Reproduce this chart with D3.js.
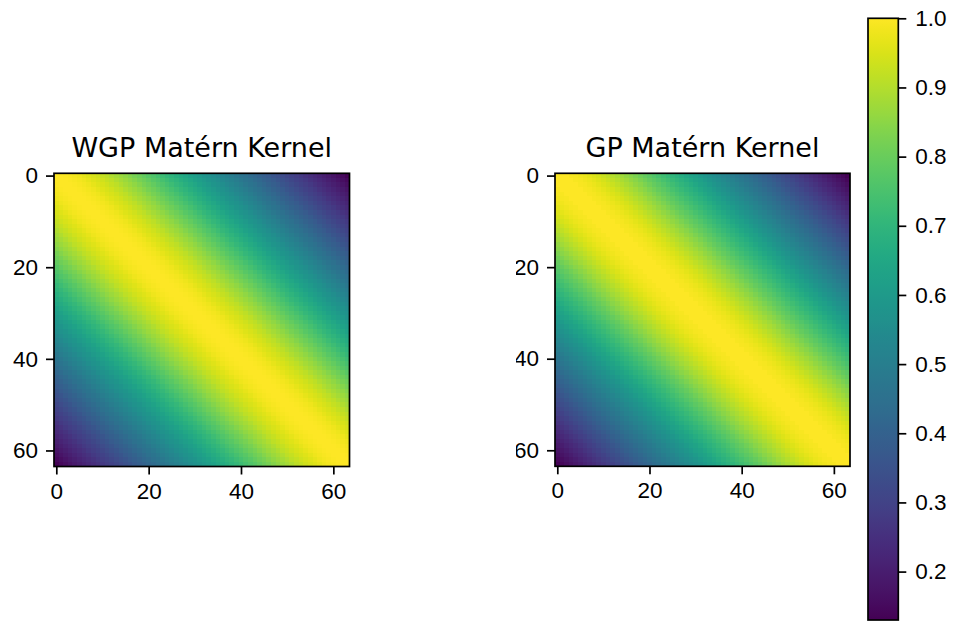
<!DOCTYPE html>
<html>
<head>
<meta charset="utf-8">
<script src="https://cdn.jsdelivr.net/npm/d3@7"></script>
<style>
  body { margin: 0; background: #fff; }
  svg { display: block; font-family: "DejaVu Sans", sans-serif; }
  .axis text { font-size: 22.5px; fill: #000; }
  .axis line, .axis path { stroke: #000; stroke-width: 1.7; }
  .title { font-size: 27px; }
</style>
</head>
<body>
<svg id="chart" width="954" height="621"></svg>
<script>
const wgpLag = [
  1.000, 0.999, 0.996, 0.991, 0.985, 0.978, 0.969, 0.959, 0.948, 0.937,
  0.925, 0.912, 0.898, 0.884, 0.870, 0.855, 0.839, 0.823, 0.807, 0.791,
  0.775, 0.759, 0.743, 0.727, 0.711, 0.695, 0.679, 0.663, 0.647, 0.631,
  0.615, 0.600, 0.585, 0.570, 0.555, 0.540, 0.525, 0.510, 0.495, 0.480,
  0.465, 0.450, 0.435, 0.420, 0.405, 0.390, 0.375, 0.360, 0.345, 0.330,
  0.315, 0.301, 0.287, 0.273, 0.259, 0.245, 0.231, 0.217, 0.203, 0.189,
  0.175, 0.161, 0.147, 0.133
];
const gpLag = [
  1.000, 0.999, 0.997, 0.993, 0.988, 0.981, 0.973, 0.964, 0.954, 0.943,
  0.931, 0.918, 0.904, 0.890, 0.875, 0.860, 0.844, 0.828, 0.812, 0.796,
  0.780, 0.764, 0.748, 0.732, 0.716, 0.700, 0.684, 0.668, 0.652, 0.636,
  0.620, 0.604, 0.588, 0.572, 0.557, 0.542, 0.527, 0.512, 0.497, 0.482,
  0.467, 0.452, 0.437, 0.422, 0.407, 0.392, 0.377, 0.362, 0.347, 0.332,
  0.317, 0.302, 0.287, 0.272, 0.257, 0.242, 0.228, 0.214, 0.200, 0.186,
  0.172, 0.158, 0.144, 0.130
];
const panelTitles = ["WGP Matérn Kernel", "GP Matérn Kernel"];
const axisTicks = [0, 20, 40, 60];
const cbarTicks = [0.2, 0.3, 0.4, 0.5, 0.6, 0.7, 0.8, 0.9, 1.0];
const nPts = 64;

const svg = d3.select("#chart");
const defs = svg.append("defs");

const allVals = wgpLag.concat(gpLag);
const color = d3.scaleSequential(d3.interpolateViridis)
    .domain([d3.min(allVals), d3.max(allVals)]);

const panels = [
  { lag: wgpLag, title: panelTitles[0], left: 54, right: 349.5, top: 173.3, bottom: 466.5 },
  { lag: gpLag, title: panelTitles[1], left: 555, right: 850, top: 173.3, bottom: 466.3 }
];

// the right panel's y labels are cut on the left in the original
defs.append("clipPath").attr("id", "ylabClip")
    .append("rect").attr("x", 516).attr("y", 0).attr("width", 60).attr("height", 621);

panels.forEach((p, k) => {
  const x = d3.scaleLinear().domain([-0.5, nPts - 0.5]).range([p.left, p.right]);
  const y = d3.scaleLinear().domain([-0.5, nPts - 0.5]).range([p.top, p.bottom]);

  const cells = [];
  for (let i = 0; i < nPts; i++) {
    for (let j = 0; j < nPts; j++) {
      cells.push({ row: i, col: j, v: p.lag[Math.abs(i - j)] });
    }
  }

  const g = svg.append("g");
  g.selectAll("rect.cell")
    .data(cells)
    .join("rect")
    .attr("class", "cell")
    .attr("x", d => x(d.col - 0.5))
    .attr("y", d => y(d.row - 0.5))
    .attr("width", d => Math.min(x(d.col + 0.5) + 1, p.right) - x(d.col - 0.5))
    .attr("height", d => Math.min(y(d.row + 0.5) + 1, p.bottom) - y(d.row - 0.5))
    .attr("shape-rendering", "crispEdges")
    .attr("fill", d => color(d.v));

  // frame
  g.append("rect")
    .attr("x", p.left).attr("y", p.top)
    .attr("width", p.right - p.left).attr("height", p.bottom - p.top)
    .attr("fill", "none").attr("stroke", "#000").attr("stroke-width", 1.7);

  const xAxisG = svg.append("g")
    .attr("class", "axis")
    .attr("transform", `translate(0,${p.bottom})`)
    .call(d3.axisBottom(x).tickValues(axisTicks).tickSize(8).tickPadding(7))
    .call(a => a.select(".domain").remove());
  xAxisG.selectAll("text").attr("dy", "0.76em");

  const yWrap = svg.append("g");
  if (k === 1) yWrap.attr("clip-path", "url(#ylabClip)");
  yWrap.append("g")
    .attr("class", "axis")
    .attr("transform", `translate(${p.left},0)`)
    .call(d3.axisLeft(y).tickValues(axisTicks).tickSize(8).tickPadding(8))
    .call(a => a.select(".domain").remove());

  svg.append("text")
    .attr("class", "title")
    .attr("x", (p.left + p.right) / 2)
    .attr("y", 157)
    .attr("text-anchor", "middle")
    .text(p.title);
});

// colorbar
const cb = { left: 868, right: 898.3, top: 18.3, bottom: 620 };
const cbY = d3.scaleLinear().domain(color.domain()).range([cb.bottom, cb.top]);
const grad = defs.append("linearGradient")
    .attr("id", "cbGrad").attr("x1", 0).attr("y1", 1).attr("x2", 0).attr("y2", 0);
d3.range(0, 1.0001, 0.02).forEach(t => {
  grad.append("stop").attr("offset", t).attr("stop-color", d3.interpolateViridis(t));
});
svg.append("rect")
  .attr("x", cb.left).attr("y", cb.top)
  .attr("width", cb.right - cb.left).attr("height", cb.bottom - cb.top)
  .attr("fill", "url(#cbGrad)")
  .attr("stroke", "#000").attr("stroke-width", 1.7);

svg.append("g")
  .attr("class", "axis")
  .attr("transform", `translate(${cb.right},0)`)
  .call(d3.axisRight(cbY).tickValues(cbarTicks).tickSize(8).tickPadding(9).tickFormat(d3.format(".1f")))
  .call(a => a.select(".domain").remove());
</script>
</body>
</html>
